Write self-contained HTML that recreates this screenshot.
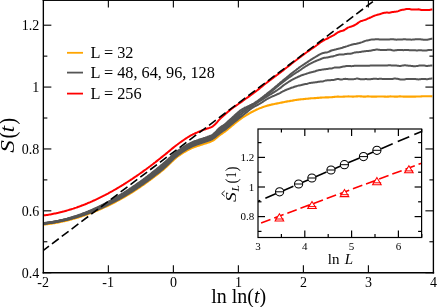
<!DOCTYPE html>
<html><head><meta charset="utf-8"><title>S(t) vs ln ln(t)</title>
<style>
html,body{margin:0;padding:0;background:#fff;}
body{width:437px;height:307px;overflow:hidden;position:relative;font-family:"Liberation Serif",serif;}
</style></head><body>
<svg width="437" height="307" viewBox="0 0 437 307" style="position:absolute;left:0;top:0;will-change:transform;opacity:0.999">
<rect x="0" y="0" width="437" height="307" fill="#fff"/>
<defs><clipPath id="mc"><rect x="43.35" y="0" width="390.05" height="272.70"/></clipPath>
<clipPath id="ic"><rect x="258.00" y="129.00" width="163.60" height="108.50"/></clipPath></defs>
<g>
<g clip-path="url(#mc)" fill="none" stroke-linejoin="round" stroke-linecap="butt">
<polyline points="43.4,224.6 44.4,224.5 45.4,224.4 46.4,224.3 47.4,224.2 48.4,224.0 49.4,223.9 50.4,223.7 51.4,223.6 52.4,223.4 53.4,223.3 54.4,223.1 55.4,222.9 56.4,222.8 57.4,222.6 58.4,222.4 59.4,222.2 60.4,222.0 61.4,221.8 62.4,221.6 63.4,221.3 64.4,221.1 65.4,220.9 66.4,220.7 67.4,220.4 68.4,220.2 69.4,219.9 70.4,219.6 71.4,219.4 72.4,219.1 73.4,218.8 74.4,218.6 75.4,218.3 76.4,218.0 77.4,217.7 78.4,217.4 79.4,217.1 80.4,216.7 81.4,216.4 82.4,216.1 83.4,215.8 84.4,215.4 85.4,215.1 86.4,214.7 87.4,214.4 88.4,214.0 89.4,213.6 90.4,213.3 91.4,212.9 92.4,212.5 93.4,212.1 94.4,211.7 95.4,211.3 96.4,210.9 97.4,210.5 98.4,210.0 99.4,209.6 100.4,209.2 101.4,208.7 102.4,208.3 103.4,207.8 104.4,207.4 105.4,206.9 106.4,206.5 107.4,206.0 108.4,205.5 109.4,205.0 110.4,204.5 111.4,204.0 112.4,203.5 113.4,203.0 114.4,202.5 115.4,202.0 116.4,201.4 117.4,200.9 118.4,200.4 119.4,199.8 120.4,199.2 121.4,198.7 122.4,198.1 123.4,197.6 124.4,197.0 125.4,196.4 126.4,195.8 127.4,195.2 128.4,194.6 129.4,194.0 130.4,193.4 131.4,192.8 132.4,192.1 133.4,191.5 134.4,190.9 135.4,190.2 136.4,189.6 137.4,188.9 138.4,188.2 139.4,187.6 140.4,186.9 141.4,186.2 142.4,185.5 143.4,184.8 144.4,184.1 145.4,183.4 146.4,182.7 147.4,182.0 148.4,181.2 149.4,180.5 150.4,179.8 151.4,179.0 152.4,178.3 153.4,177.5 154.4,176.7 155.4,176.0 156.4,175.2 157.4,174.4 158.4,173.6 159.4,172.9 160.4,172.0 161.4,171.2 162.4,170.4 163.4,169.6 164.4,168.7 165.4,167.8 166.4,166.9 167.4,165.9 168.4,165.0 169.4,164.0 170.4,163.0 171.4,162.1 172.4,161.1 173.4,160.2 174.4,159.3 175.4,158.4 176.4,157.5 177.4,156.7 178.4,156.0 179.4,155.3 180.4,154.6 181.4,153.9 182.4,153.3 183.4,152.7 184.4,152.0 185.4,151.5 186.4,150.9 187.4,150.3 188.4,149.8 189.4,149.3 190.4,148.8 191.4,148.3 192.4,147.9 193.4,147.5 194.4,147.1 195.4,146.7 196.4,146.4 197.4,146.0 198.4,145.7 199.4,145.4 200.4,145.1 201.4,144.8 202.4,144.5 203.4,144.1 204.4,143.8 205.4,143.5 206.4,143.2 207.4,142.8 208.4,142.5 209.4,142.2 210.4,141.8 211.4,141.4 212.4,140.9 213.4,140.3 214.4,139.6 215.4,138.8 216.4,137.9 217.4,137.1 218.4,136.3 219.4,135.5 220.4,134.7 221.4,134.1 222.4,133.4 223.4,132.7 224.4,132.0 225.4,131.3 226.4,130.5 227.4,129.7 228.4,128.8 229.4,128.0 230.4,127.2 231.4,126.3 232.4,125.5 233.4,124.7 234.4,123.8 235.4,123.0 236.4,122.2 237.4,121.3 238.4,120.6 239.4,119.8 240.4,119.1 241.4,118.4 242.4,117.7 243.4,117.0 244.4,116.4 245.4,115.8 246.4,115.2 247.4,114.6 248.4,114.0 249.4,113.4 250.4,112.8 251.4,112.3 252.4,111.8 253.4,111.3 254.4,110.7 255.4,110.3 256.4,109.8 257.4,109.3 258.4,108.9 259.4,108.4 260.4,108.0 261.4,107.7 262.4,107.3 263.4,106.9 264.4,106.6 265.4,106.2 266.4,105.9 267.4,105.6 268.4,105.4 269.4,105.1 270.4,104.9 271.4,104.6 272.4,104.4 273.4,104.2 274.4,104.0 275.4,103.8 276.4,103.6 277.4,103.4 278.4,103.2 279.4,103.0 280.4,102.8 281.4,102.6 282.4,102.4 283.4,102.2 284.4,102.0 285.4,101.8 286.4,101.6 287.4,101.4 288.4,101.2 289.4,101.1 290.4,100.9 291.4,100.7 292.4,100.6 293.4,100.4 294.4,100.2 295.4,100.0 296.4,99.9 297.4,99.7 298.4,99.6 299.4,99.5 300.4,99.4 301.4,99.3 302.4,99.2 303.4,99.1 304.4,99.0 305.4,98.9 306.4,98.8 307.4,98.7 308.4,98.6 309.4,98.5 310.4,98.4 311.4,98.3 312.4,98.2 313.4,98.2 314.4,98.1 315.4,98.1 316.4,98.0 317.4,97.9 318.4,97.9 319.4,97.7 320.4,97.6 321.4,97.6 322.4,97.5 323.4,97.5 324.4,97.5 325.4,97.4 326.4,97.4 327.4,97.4 328.4,97.4 329.4,97.3 330.4,97.3 331.4,97.2 332.4,97.1 333.4,97.0 334.4,96.9 335.4,96.8 336.4,96.7 337.4,96.6 338.4,96.6 339.4,96.7 340.4,96.7 341.4,96.7 342.4,96.7 343.4,96.6 344.4,96.6 345.4,96.5 346.4,96.5 347.4,96.5 348.4,96.4 349.4,96.5 350.4,96.5 351.4,96.5 352.4,96.6 353.4,96.6 354.4,96.5 355.4,96.5 356.4,96.4 357.4,96.4 358.4,96.3 359.4,96.3 360.4,96.4 361.4,96.4 362.4,96.5 363.4,96.6 364.4,96.6 365.4,96.6 366.4,96.5 367.4,96.4 368.4,96.4 369.4,96.5 370.4,96.5 371.4,96.6 372.4,96.6 373.4,96.6 374.4,96.6 375.4,96.6 376.4,96.6 377.4,96.5 378.4,96.5 379.4,96.5 380.4,96.5 381.4,96.5 382.4,96.5 383.4,96.5 384.4,96.6 385.4,96.6 386.4,96.7 387.4,96.6 388.4,96.6 389.4,96.5 390.4,96.4 391.4,96.5 392.4,96.5 393.4,96.5 394.4,96.6 395.4,96.6 396.4,96.6 397.4,96.6 398.4,96.5 399.4,96.4 400.4,96.4 401.4,96.5 402.4,96.5 403.4,96.6 404.4,96.6 405.4,96.6 406.4,96.6 407.4,96.6 408.4,96.6 409.4,96.6 410.4,96.6 411.4,96.6 412.4,96.6 413.4,96.6 414.4,96.6 415.4,96.6 416.4,96.5 417.4,96.5 418.4,96.5 419.4,96.5 420.4,96.5 421.4,96.4 422.4,96.3 423.4,96.3 424.4,96.3 425.4,96.3 426.4,96.3 427.4,96.3 428.4,96.3 429.4,96.3 430.4,96.3 431.4,96.3 432.4,96.4" stroke="#ffa500" stroke-width="2.1"/>
<polyline points="43.4,223.2 44.4,223.1 45.4,223.0 46.4,222.9 47.4,222.7 48.4,222.6 49.4,222.5 50.4,222.3 51.4,222.2 52.4,222.0 53.4,221.8 54.4,221.7 55.4,221.5 56.4,221.3 57.4,221.1 58.4,220.9 59.4,220.7 60.4,220.5 61.4,220.3 62.4,220.0 63.4,219.8 64.4,219.6 65.4,219.3 66.4,219.0 67.4,218.8 68.4,218.5 69.4,218.2 70.4,217.9 71.4,217.6 72.4,217.3 73.4,217.0 74.4,216.7 75.4,216.4 76.4,216.1 77.4,215.8 78.4,215.4 79.4,215.1 80.4,214.7 81.4,214.4 82.4,214.0 83.4,213.6 84.4,213.2 85.4,212.9 86.4,212.5 87.4,212.1 88.4,211.7 89.4,211.3 90.4,210.8 91.4,210.4 92.4,210.0 93.4,209.5 94.4,209.1 95.4,208.7 96.4,208.2 97.4,207.7 98.4,207.3 99.4,206.8 100.4,206.3 101.4,205.8 102.4,205.3 103.4,204.8 104.4,204.3 105.4,203.8 106.4,203.3 107.4,202.8 108.4,202.3 109.4,201.7 110.4,201.2 111.4,200.6 112.4,200.1 113.4,199.5 114.4,199.0 115.4,198.4 116.4,197.8 117.4,197.2 118.4,196.6 119.4,196.0 120.4,195.4 121.4,194.8 122.4,194.2 123.4,193.6 124.4,193.0 125.4,192.4 126.4,191.7 127.4,191.1 128.4,190.4 129.4,189.8 130.4,189.1 131.4,188.5 132.4,187.8 133.4,187.1 134.4,186.4 135.4,185.8 136.4,185.1 137.4,184.4 138.4,183.7 139.4,182.9 140.4,182.2 141.4,181.5 142.4,180.8 143.4,180.1 144.4,179.3 145.4,178.6 146.4,177.8 147.4,177.1 148.4,176.3 149.4,175.6 150.4,174.8 151.4,174.0 152.4,173.2 153.4,172.5 154.4,171.7 155.4,170.9 156.4,170.1 157.4,169.3 158.4,168.5 159.4,167.6 160.4,166.8 161.4,166.0 162.4,165.2 163.4,164.3 164.4,163.5 165.4,162.6 166.4,161.7 167.4,160.8 168.4,159.8 169.4,158.9 170.4,158.0 171.4,157.1 172.4,156.1 173.4,155.2 174.4,154.4 175.4,153.5 176.4,152.7 177.4,151.9 178.4,151.2 179.4,150.5 180.4,149.8 181.4,149.1 182.4,148.4 183.4,147.8 184.4,147.2 185.4,146.5 186.4,146.0 187.4,145.4 188.4,144.8 189.4,144.3 190.4,143.8 191.4,143.3 192.4,142.8 193.4,142.4 194.4,142.0 195.4,141.6 196.4,141.3 197.4,140.9 198.4,140.6 199.4,140.3 200.4,139.9 201.4,139.6 202.4,139.3 203.4,139.0 204.4,138.6 205.4,138.3 206.4,137.9 207.4,137.6 208.4,137.2 209.4,136.9 210.4,136.5 211.4,136.1 212.4,135.5 213.4,134.8 214.4,133.9 215.4,132.9 216.4,131.9 217.4,130.9 218.4,129.9 219.4,129.0 220.4,128.3 221.4,127.5 222.4,126.9 223.4,126.2 224.4,125.5 225.4,124.7 226.4,123.9 227.4,123.0 228.4,122.1 229.4,121.2 230.4,120.4 231.4,119.5 232.4,118.6 233.4,117.8 234.4,116.9 235.4,116.0 236.4,115.2 237.4,114.3 238.4,113.4 239.4,112.6 240.4,111.7" stroke="#555555" stroke-width="2.0"/>
<polyline points="43.4,223.5 44.4,223.4 45.4,223.3 46.4,223.1 47.4,223.0 48.4,222.9 49.4,222.7 50.4,222.6 51.4,222.4 52.4,222.3 53.4,222.1 54.4,222.0 55.4,221.8 56.4,221.6 57.4,221.4 58.4,221.2 59.4,221.0 60.4,220.8 61.4,220.6 62.4,220.3 63.4,220.1 64.4,219.9 65.4,219.6 66.4,219.4 67.4,219.1 68.4,218.9 69.4,218.6 70.4,218.3 71.4,218.0 72.4,217.8 73.4,217.5 74.4,217.2 75.4,216.9 76.4,216.5 77.4,216.2 78.4,215.9 79.4,215.6 80.4,215.2 81.4,214.9 82.4,214.5 83.4,214.2 84.4,213.8 85.4,213.4 86.4,213.1 87.4,212.7 88.4,212.3 89.4,211.9 90.4,211.5 91.4,211.1 92.4,210.7 93.4,210.3 94.4,209.8 95.4,209.4 96.4,209.0 97.4,208.5 98.4,208.1 99.4,207.6 100.4,207.2 101.4,206.7 102.4,206.2 103.4,205.7 104.4,205.2 105.4,204.8 106.4,204.3 107.4,203.7 108.4,203.2 109.4,202.7 110.4,202.2 111.4,201.7 112.4,201.1 113.4,200.6 114.4,200.0 115.4,199.5 116.4,198.9 117.4,198.4 118.4,197.8 119.4,197.2 120.4,196.6 121.4,196.0 122.4,195.4 123.4,194.8 124.4,194.2 125.4,193.6 126.4,193.0 127.4,192.4 128.4,191.8 129.4,191.1 130.4,190.5 131.4,189.8 132.4,189.2 133.4,188.5 134.4,187.8 135.4,187.2 136.4,186.5 137.4,185.8 138.4,185.1 139.4,184.4 140.4,183.7 141.4,183.0 142.4,182.3 143.4,181.6 144.4,180.9 145.4,180.1 146.4,179.4 147.4,178.7 148.4,177.9 149.4,177.2 150.4,176.4 151.4,175.6 152.4,174.9 153.4,174.1 154.4,173.3 155.4,172.5 156.4,171.7 157.4,170.9 158.4,170.1 159.4,169.3 160.4,168.5 161.4,167.7 162.4,166.9 163.4,166.0 164.4,165.2 165.4,164.3 166.4,163.4 167.4,162.4 168.4,161.5 169.4,160.5 170.4,159.6 171.4,158.6 172.4,157.7 173.4,156.8 174.4,155.9 175.4,155.0 176.4,154.2 177.4,153.4 178.4,152.6 179.4,151.9 180.4,151.2 181.4,150.5 182.4,149.9 183.4,149.2 184.4,148.6 185.4,148.0 186.4,147.4 187.4,146.8 188.4,146.2 189.4,145.7 190.4,145.2 191.4,144.7 192.4,144.2 193.4,143.8 194.4,143.4 195.4,143.0 196.4,142.6 197.4,142.3 198.4,142.0 199.4,141.6 200.4,141.3 201.4,141.0 202.4,140.6 203.4,140.3 204.4,140.0 205.4,139.6 206.4,139.3 207.4,138.9 208.4,138.6 209.4,138.3 210.4,137.9 211.4,137.4 212.4,136.9 213.4,136.2 214.4,135.4 215.4,134.5 216.4,133.6 217.4,132.6 218.4,131.7 219.4,130.8 220.4,130.1 221.4,129.4 222.4,128.7 223.4,128.0 224.4,127.3 225.4,126.6 226.4,125.8 227.4,124.9 228.4,124.0 229.4,123.2 230.4,122.3 231.4,121.5 232.4,120.6 233.4,119.8 234.4,118.9 235.4,118.1 236.4,117.3 237.4,116.4 238.4,115.6 239.4,114.7 240.4,113.9" stroke="#555555" stroke-width="2.0"/>
<polyline points="43.4,223.8 44.4,223.6 45.4,223.5 46.4,223.4 47.4,223.3 48.4,223.1 49.4,223.0 50.4,222.9 51.4,222.7 52.4,222.5 53.4,222.4 54.4,222.2 55.4,222.0 56.4,221.9 57.4,221.7 58.4,221.5 59.4,221.3 60.4,221.1 61.4,220.9 62.4,220.6 63.4,220.4 64.4,220.2 65.4,220.0 66.4,219.7 67.4,219.5 68.4,219.2 69.4,219.0 70.4,218.7 71.4,218.4 72.4,218.2 73.4,217.9 74.4,217.6 75.4,217.3 76.4,217.0 77.4,216.7 78.4,216.4 79.4,216.1 80.4,215.7 81.4,215.4 82.4,215.1 83.4,214.7 84.4,214.4 85.4,214.0 86.4,213.7 87.4,213.3 88.4,212.9 89.4,212.6 90.4,212.2 91.4,211.8 92.4,211.4 93.4,211.0 94.4,210.6 95.4,210.2 96.4,209.7 97.4,209.3 98.4,208.9 99.4,208.4 100.4,208.0 101.4,207.5 102.4,207.1 103.4,206.6 104.4,206.2 105.4,205.7 106.4,205.2 107.4,204.7 108.4,204.2 109.4,203.7 110.4,203.2 111.4,202.7 112.4,202.2 113.4,201.7 114.4,201.1 115.4,200.6 116.4,200.0 117.4,199.5 118.4,198.9 119.4,198.4 120.4,197.8 121.4,197.2 122.4,196.7 123.4,196.1 124.4,195.5 125.4,194.9 126.4,194.3 127.4,193.7 128.4,193.1 129.4,192.4 130.4,191.8 131.4,191.2 132.4,190.5 133.4,189.9 134.4,189.3 135.4,188.6 136.4,187.9 137.4,187.3 138.4,186.6 139.4,185.9 140.4,185.2 141.4,184.5 142.4,183.8 143.4,183.1 144.4,182.4 145.4,181.7 146.4,181.0 147.4,180.2 148.4,179.5 149.4,178.8 150.4,178.0 151.4,177.3 152.4,176.5 153.4,175.7 154.4,175.0 155.4,174.2 156.4,173.4 157.4,172.6 158.4,171.8 159.4,171.0 160.4,170.2 161.4,169.4 162.4,168.6 163.4,167.7 164.4,166.9 165.4,166.0 166.4,165.0 167.4,164.1 168.4,163.1 169.4,162.1 170.4,161.2 171.4,160.2 172.4,159.2 173.4,158.3 174.4,157.4 175.4,156.5 176.4,155.6 177.4,154.8 178.4,154.1 179.4,153.3 180.4,152.6 181.4,151.9 182.4,151.3 183.4,150.6 184.4,150.0 185.4,149.4 186.4,148.8 187.4,148.2 188.4,147.6 189.4,147.1 190.4,146.6 191.4,146.1 192.4,145.6 193.4,145.2 194.4,144.8 195.4,144.4 196.4,144.0 197.4,143.7 198.4,143.3 199.4,143.0 200.4,142.7 201.4,142.3 202.4,142.0 203.4,141.7 204.4,141.3 205.4,141.0 206.4,140.6 207.4,140.3 208.4,140.0 209.4,139.6 210.4,139.3 211.4,138.8 212.4,138.3 213.4,137.7 214.4,136.9 215.4,136.1 216.4,135.2 217.4,134.3 218.4,133.5 219.4,132.6 220.4,131.9 221.4,131.2 222.4,130.6 223.4,129.9 224.4,129.2 225.4,128.4 226.4,127.6 227.4,126.8 228.4,125.9 229.4,125.1 230.4,124.3 231.4,123.4 232.4,122.6 233.4,121.8 234.4,121.0 235.4,120.2 236.4,119.4 237.4,118.5 238.4,117.7 239.4,116.9 240.4,116.1" stroke="#555555" stroke-width="2.0"/>
<polyline points="43.4,223.9 44.4,223.8 45.4,223.7 46.4,223.5 47.4,223.4 48.4,223.3 49.4,223.1 50.4,223.0 51.4,222.8 52.4,222.7 53.4,222.5 54.4,222.4 55.4,222.2 56.4,222.0 57.4,221.8 58.4,221.6 59.4,221.4 60.4,221.2 61.4,221.0 62.4,220.8 63.4,220.6 64.4,220.4 65.4,220.1 66.4,219.9 67.4,219.7 68.4,219.4 69.4,219.2 70.4,218.9 71.4,218.6 72.4,218.4 73.4,218.1 74.4,217.8 75.4,217.5 76.4,217.2 77.4,216.9 78.4,216.6 79.4,216.3 80.4,216.0 81.4,215.7 82.4,215.3 83.4,215.0 84.4,214.7 85.4,214.3 86.4,214.0 87.4,213.6 88.4,213.3 89.4,212.9 90.4,212.5 91.4,212.1 92.4,211.7 93.4,211.3 94.4,211.0 95.4,210.5 96.4,210.1 97.4,209.7 98.4,209.3 99.4,208.9 100.4,208.4 101.4,208.0 102.4,207.5 103.4,207.1 104.4,206.6 105.4,206.2 106.4,205.7 107.4,205.2 108.4,204.7 109.4,204.2 110.4,203.7 111.4,203.2 112.4,202.7 113.4,202.2 114.4,201.7 115.4,201.2 116.4,200.6 117.4,200.1 118.4,199.5 119.4,199.0 120.4,198.4 121.4,197.9 122.4,197.3 123.4,196.7 124.4,196.1 125.4,195.6 126.4,195.0 127.4,194.4 128.4,193.7 129.4,193.1 130.4,192.5 131.4,191.9 132.4,191.3 133.4,190.6 134.4,190.0 135.4,189.3 136.4,188.7 137.4,188.0 138.4,187.3 139.4,186.7 140.4,186.0 141.4,185.3 142.4,184.6 143.4,183.9 144.4,183.2 145.4,182.5 146.4,181.8 147.4,181.1 148.4,180.3 149.4,179.6 150.4,178.8 151.4,178.1 152.4,177.3 153.4,176.6 154.4,175.8 155.4,175.0 156.4,174.3 157.4,173.5 158.4,172.7 159.4,171.9 160.4,171.1 161.4,170.3 162.4,169.4 163.4,168.6 164.4,167.7 165.4,166.8 166.4,165.9 167.4,164.9 168.4,164.0 169.4,163.0 170.4,162.0 171.4,161.0 172.4,160.0 173.4,159.1 174.4,158.1 175.4,157.2 176.4,156.4 177.4,155.6 178.4,154.8 179.4,154.1 180.4,153.4 181.4,152.7 182.4,152.0 183.4,151.4 184.4,150.7 185.4,150.1 186.4,149.5 187.4,148.9 188.4,148.4 189.4,147.8 190.4,147.3 191.4,146.8 192.4,146.4 193.4,145.9 194.4,145.5 195.4,145.1 196.4,144.7 197.4,144.4 198.4,144.0 199.4,143.7 200.4,143.4 201.4,143.0 202.4,142.7 203.4,142.4 204.4,142.0 205.4,141.7 206.4,141.3 207.4,141.0 208.4,140.7 209.4,140.3 210.4,140.0 211.4,139.5 212.4,139.0 213.4,138.4 214.4,137.7 215.4,136.9 216.4,136.0 217.4,135.2 218.4,134.4 219.4,133.6 220.4,132.8 221.4,132.2 222.4,131.5 223.4,130.8 224.4,130.1 225.4,129.4 226.4,128.6 227.4,127.8 228.4,126.9 229.4,126.1 230.4,125.3 231.4,124.5 232.4,123.7 233.4,122.8 234.4,122.0 235.4,121.2 236.4,120.4 237.4,119.6 238.4,118.8 239.4,118.0 240.4,117.2 241.4,116.4 242.4,115.6 243.4,114.8 244.4,114.0 245.4,113.2 246.4,112.4 247.4,111.6 248.4,110.8 249.4,110.0 250.4,109.3 251.4,108.5 252.4,107.8 253.4,107.2 254.4,106.6 255.4,106.0 256.4,105.5 257.4,105.0 258.4,104.5 259.4,103.9 260.4,103.4 261.4,102.7 262.4,102.1 263.4,101.4 264.4,100.7 265.4,100.1 266.4,99.4 267.4,98.9 268.4,98.3 269.4,97.8 270.4,97.3 271.4,96.9 272.4,96.4 273.4,96.0 274.4,95.6 275.4,95.1 276.4,94.7 277.4,94.2 278.4,93.8 279.4,93.3 280.4,92.8 281.4,92.2 282.4,91.7 283.4,91.1 284.4,90.7 285.4,90.2 286.4,89.8 287.4,89.4 288.4,89.0 289.4,88.6 290.4,88.2 291.4,87.8 292.4,87.5 293.4,87.2 294.4,86.8 295.4,86.5 296.4,86.2 297.4,85.9 298.4,85.6 299.4,85.4 300.4,85.2 301.4,85.0 302.4,84.7 303.4,84.5 304.4,84.3 305.4,84.1 306.4,83.9 307.4,83.7 308.4,83.4 309.4,83.1 310.4,82.9 311.4,82.8 312.4,82.7 313.4,82.5 314.4,82.4 315.4,82.3 316.4,82.2 317.4,82.0 318.4,81.8 319.4,81.8 320.4,81.6 321.4,81.6 322.4,81.4 323.4,81.2 324.4,80.9 325.4,80.6 326.4,80.4 327.4,80.3 328.4,80.2 329.4,80.3 330.4,80.2 331.4,80.1 332.4,80.1 333.4,79.9 334.4,79.8 335.4,79.5 336.4,79.2 337.4,79.1 338.4,79.1 339.4,79.2 340.4,79.4 341.4,79.5 342.4,79.4 343.4,79.1 344.4,78.9 345.4,78.8 346.4,78.9 347.4,79.0 348.4,79.2 349.4,79.3 350.4,79.3 351.4,79.3 352.4,79.3 353.4,79.2 354.4,79.1 355.4,78.9 356.4,78.6 357.4,78.6 358.4,78.7 359.4,78.9 360.4,79.2 361.4,79.3 362.4,79.3 363.4,79.2 364.4,79.2 365.4,79.1 366.4,79.1 367.4,79.2 368.4,79.3 369.4,79.3 370.4,79.3 371.4,79.1 372.4,78.9 373.4,78.7 374.4,78.7 375.4,78.7 376.4,78.8 377.4,78.9 378.4,78.9 379.4,78.8 380.4,78.8 381.4,78.8 382.4,78.9 383.4,78.9 384.4,79.0 385.4,79.0 386.4,79.0 387.4,79.0 388.4,79.0 389.4,79.1 390.4,79.1 391.4,79.0 392.4,78.9 393.4,78.7 394.4,78.6 395.4,78.6 396.4,78.7 397.4,78.8 398.4,79.0 399.4,79.2 400.4,79.4 401.4,79.5 402.4,79.6 403.4,79.6 404.4,79.4 405.4,79.2 406.4,79.1 407.4,79.0 408.4,79.0 409.4,79.0 410.4,78.9 411.4,79.0 412.4,78.9 413.4,78.9 414.4,79.0 415.4,79.1 416.4,79.2 417.4,79.3 418.4,79.4 419.4,79.3 420.4,79.2 421.4,79.1 422.4,79.0 423.4,78.9 424.4,79.0 425.4,79.1 426.4,79.2 427.4,79.2 428.4,79.1 429.4,78.8 430.4,78.7 431.4,78.5 432.4,78.5" stroke="#555555" stroke-width="2.0"/>
<polyline points="43.4,223.6 44.4,223.5 45.4,223.4 46.4,223.2 47.4,223.1 48.4,223.0 49.4,222.8 50.4,222.7 51.4,222.5 52.4,222.4 53.4,222.2 54.4,222.0 55.4,221.9 56.4,221.7 57.4,221.5 58.4,221.3 59.4,221.1 60.4,220.9 61.4,220.7 62.4,220.5 63.4,220.2 64.4,220.0 65.4,219.8 66.4,219.5 67.4,219.3 68.4,219.0 69.4,218.7 70.4,218.5 71.4,218.2 72.4,217.9 73.4,217.6 74.4,217.3 75.4,217.0 76.4,216.7 77.4,216.4 78.4,216.1 79.4,215.7 80.4,215.4 81.4,215.1 82.4,214.7 83.4,214.4 84.4,214.0 85.4,213.7 86.4,213.3 87.4,212.9 88.4,212.5 89.4,212.1 90.4,211.7 91.4,211.3 92.4,210.9 93.4,210.5 94.4,210.1 95.4,209.7 96.4,209.2 97.4,208.8 98.4,208.4 99.4,207.9 100.4,207.5 101.4,207.0 102.4,206.5 103.4,206.1 104.4,205.6 105.4,205.1 106.4,204.6 107.4,204.1 108.4,203.6 109.4,203.1 110.4,202.6 111.4,202.0 112.4,201.5 113.4,201.0 114.4,200.4 115.4,199.9 116.4,199.3 117.4,198.8 118.4,198.2 119.4,197.6 120.4,197.1 121.4,196.5 122.4,195.9 123.4,195.3 124.4,194.7 125.4,194.1 126.4,193.5 127.4,192.9 128.4,192.2 129.4,191.6 130.4,191.0 131.4,190.3 132.4,189.7 133.4,189.0 134.4,188.4 135.4,187.7 136.4,187.0 137.4,186.3 138.4,185.7 139.4,185.0 140.4,184.3 141.4,183.6 142.4,182.9 143.4,182.1 144.4,181.4 145.4,180.7 146.4,180.0 147.4,179.2 148.4,178.5 149.4,177.7 150.4,177.0 151.4,176.2 152.4,175.5 153.4,174.7 154.4,173.9 155.4,173.1 156.4,172.3 157.4,171.6 158.4,170.8 159.4,169.9 160.4,169.1 161.4,168.3 162.4,167.5 163.4,166.6 164.4,165.8 165.4,164.9 166.4,164.0 167.4,163.0 168.4,162.1 169.4,161.1 170.4,160.2 171.4,159.2 172.4,158.3 173.4,157.3 174.4,156.4 175.4,155.5 176.4,154.7 177.4,153.9 178.4,153.1 179.4,152.4 180.4,151.7 181.4,151.0 182.4,150.4 183.4,149.7 184.4,149.1 185.4,148.5 186.4,147.9 187.4,147.3 188.4,146.7 189.4,146.2 190.4,145.7 191.4,145.2 192.4,144.8 193.4,144.3 194.4,143.9 195.4,143.5 196.4,143.2 197.4,142.8 198.4,142.5 199.4,142.1 200.4,141.8 201.4,141.5 202.4,141.1 203.4,140.8 204.4,140.5 205.4,140.1 206.4,139.8 207.4,139.4 208.4,139.1 209.4,138.8 210.4,138.4 211.4,137.9 212.4,137.4 213.4,136.7 214.4,135.9 215.4,135.1 216.4,134.2 217.4,133.2 218.4,132.3 219.4,131.5 220.4,130.7 221.4,130.1 222.4,129.4 223.4,128.7 224.4,128.0 225.4,127.3 226.4,126.4 227.4,125.6 228.4,124.7 229.4,123.9 230.4,123.0 231.4,122.2 232.4,121.3 233.4,120.5 234.4,119.6 235.4,118.8 236.4,117.9 237.4,117.1 238.4,116.3 239.4,115.5 240.4,114.7 241.4,113.9 242.4,113.1 243.4,112.4 244.4,111.6 245.4,110.9 246.4,110.2 247.4,109.5 248.4,108.8 249.4,108.1 250.4,107.4 251.4,106.7 252.4,106.0 253.4,105.3 254.4,104.6 255.4,104.0 256.4,103.3 257.4,102.6 258.4,102.0 259.4,101.4 260.4,100.7 261.4,100.1 262.4,99.4 263.4,98.8 264.4,98.2 265.4,97.5 266.4,96.9 267.4,96.3 268.4,95.6 269.4,95.0 270.4,94.4 271.4,93.8 272.4,93.2 273.4,92.6 274.4,91.9 275.4,91.3 276.4,90.7 277.4,90.0 278.4,89.3 279.4,88.6 280.4,87.9 281.4,87.1 282.4,86.2 283.4,85.4 284.4,84.7 285.4,84.0 286.4,83.4 287.4,82.7 288.4,82.0 289.4,81.4 290.4,80.8 291.4,80.2 292.4,79.7 293.4,79.1 294.4,78.6 295.4,78.1 296.4,77.6 297.4,77.2 298.4,76.7 299.4,76.3 300.4,75.8 301.4,75.4 302.4,75.0 303.4,74.7 304.4,74.4 305.4,74.1 306.4,73.8 307.4,73.4 308.4,73.1 309.4,72.8 310.4,72.5 311.4,72.3 312.4,72.1 313.4,71.8 314.4,71.5 315.4,71.2 316.4,70.8 317.4,70.6 318.4,70.3 319.4,70.1 320.4,69.9 321.4,69.7 322.4,69.6 323.4,69.4 324.4,69.3 325.4,69.2 326.4,69.0 327.4,68.9 328.4,68.7 329.4,68.6 330.4,68.6 331.4,68.4 332.4,68.2 333.4,67.9 334.4,67.6 335.4,67.5 336.4,67.5 337.4,67.5 338.4,67.5 339.4,67.4 340.4,67.2 341.4,67.0 342.4,66.8 343.4,66.6 344.4,66.4 345.4,66.2 346.4,66.0 347.4,65.9 348.4,65.9 349.4,66.0 350.4,66.1 351.4,66.2 352.4,66.1 353.4,65.9 354.4,65.8 355.4,65.8 356.4,65.7 357.4,65.8 358.4,65.7 359.4,65.7 360.4,65.8 361.4,65.8 362.4,65.8 363.4,65.8 364.4,65.8 365.4,65.8 366.4,65.8 367.4,65.8 368.4,65.7 369.4,65.7 370.4,65.6 371.4,65.5 372.4,65.5 373.4,65.4 374.4,65.4 375.4,65.4 376.4,65.4 377.4,65.4 378.4,65.5 379.4,65.5 380.4,65.5 381.4,65.6 382.4,65.5 383.4,65.6 384.4,65.5 385.4,65.5 386.4,65.5 387.4,65.4 388.4,65.3 389.4,65.3 390.4,65.3 391.4,65.4 392.4,65.5 393.4,65.6 394.4,65.6 395.4,65.6 396.4,65.6 397.4,65.7 398.4,65.8 399.4,65.9 400.4,65.9 401.4,65.7 402.4,65.6 403.4,65.4 404.4,65.3 405.4,65.3 406.4,65.4 407.4,65.5 408.4,65.7 409.4,65.7 410.4,65.8 411.4,65.9 412.4,66.0 413.4,66.2 414.4,66.2 415.4,66.2 416.4,66.1 417.4,65.9 418.4,65.8 419.4,65.6 420.4,65.5 421.4,65.6 422.4,65.5 423.4,65.6 424.4,65.6 425.4,65.7 426.4,65.9 427.4,65.9 428.4,65.8 429.4,65.7 430.4,65.6 431.4,65.4 432.4,65.4" stroke="#555555" stroke-width="2.0"/>
<polyline points="43.4,223.3 44.4,223.2 45.4,223.1 46.4,223.0 47.4,222.8 48.4,222.7 49.4,222.6 50.4,222.4 51.4,222.3 52.4,222.1 53.4,222.0 54.4,221.8 55.4,221.6 56.4,221.4 57.4,221.2 58.4,221.0 59.4,220.8 60.4,220.6 61.4,220.4 62.4,220.1 63.4,219.9 64.4,219.7 65.4,219.4 66.4,219.2 67.4,218.9 68.4,218.6 69.4,218.4 70.4,218.1 71.4,217.8 72.4,217.5 73.4,217.2 74.4,216.9 75.4,216.6 76.4,216.3 77.4,215.9 78.4,215.6 79.4,215.3 80.4,214.9 81.4,214.6 82.4,214.2 83.4,213.8 84.4,213.5 85.4,213.1 86.4,212.7 87.4,212.3 88.4,211.9 89.4,211.5 90.4,211.1 91.4,210.7 92.4,210.3 93.4,209.8 94.4,209.4 95.4,209.0 96.4,208.5 97.4,208.0 98.4,207.6 99.4,207.1 100.4,206.6 101.4,206.2 102.4,205.7 103.4,205.2 104.4,204.7 105.4,204.2 106.4,203.7 107.4,203.2 108.4,202.6 109.4,202.1 110.4,201.6 111.4,201.0 112.4,200.5 113.4,199.9 114.4,199.4 115.4,198.8 116.4,198.3 117.4,197.7 118.4,197.1 119.4,196.5 120.4,195.9 121.4,195.3 122.4,194.7 123.4,194.1 124.4,193.5 125.4,192.9 126.4,192.2 127.4,191.6 128.4,191.0 129.4,190.3 130.4,189.7 131.4,189.0 132.4,188.3 133.4,187.7 134.4,187.0 135.4,186.3 136.4,185.6 137.4,184.9 138.4,184.2 139.4,183.5 140.4,182.8 141.4,182.1 142.4,181.4 143.4,180.7 144.4,179.9 145.4,179.2 146.4,178.5 147.4,177.7 148.4,176.9 149.4,176.2 150.4,175.4 151.4,174.7 152.4,173.9 153.4,173.1 154.4,172.3 155.4,171.5 156.4,170.7 157.4,169.9 158.4,169.1 159.4,168.3 160.4,167.5 161.4,166.7 162.4,165.8 163.4,165.0 164.4,164.1 165.4,163.2 166.4,162.3 167.4,161.4 168.4,160.5 169.4,159.5 170.4,158.6 171.4,157.7 172.4,156.8 173.4,155.8 174.4,155.0 175.4,154.1 176.4,153.3 177.4,152.5 178.4,151.7 179.4,151.0 180.4,150.3 181.4,149.7 182.4,149.0 183.4,148.4 184.4,147.7 185.4,147.1 186.4,146.5 187.4,145.9 188.4,145.4 189.4,144.8 190.4,144.3 191.4,143.9 192.4,143.4 193.4,143.0 194.4,142.6 195.4,142.2 196.4,141.8 197.4,141.5 198.4,141.1 199.4,140.8 200.4,140.5 201.4,140.1 202.4,139.8 203.4,139.5 204.4,139.2 205.4,138.8 206.4,138.5 207.4,138.1 208.4,137.8 209.4,137.4 210.4,137.1 211.4,136.6 212.4,136.1 213.4,135.3 214.4,134.5 215.4,133.6 216.4,132.6 217.4,131.6 218.4,130.6 219.4,129.8 220.4,129.0 221.4,128.3 222.4,127.6 223.4,126.9 224.4,126.2 225.4,125.5 226.4,124.6 227.4,123.8 228.4,122.9 229.4,122.0 230.4,121.1 231.4,120.2 232.4,119.4 233.4,118.5 234.4,117.6 235.4,116.7 236.4,115.8 237.4,114.9 238.4,114.1 239.4,113.3 240.4,112.5 241.4,111.8 242.4,111.1 243.4,110.4 244.4,109.8 245.4,109.2 246.4,108.6 247.4,108.0 248.4,107.5 249.4,106.9 250.4,106.3 251.4,105.7 252.4,105.1 253.4,104.5 254.4,103.8 255.4,103.2 256.4,102.5 257.4,101.8 258.4,101.1 259.4,100.4 260.4,99.7 261.4,99.0 262.4,98.3 263.4,97.5 264.4,96.8 265.4,96.1 266.4,95.3 267.4,94.6 268.4,93.8 269.4,93.0 270.4,92.2 271.4,91.4 272.4,90.6 273.4,89.8 274.4,88.9 275.4,88.1 276.4,87.3 277.4,86.4 278.4,85.6 279.4,84.8 280.4,84.0 281.4,83.2 282.4,82.4 283.4,81.6 284.4,80.9 285.4,80.1 286.4,79.4 287.4,78.7 288.4,78.0 289.4,77.3 290.4,76.6 291.4,75.9 292.4,75.2 293.4,74.5 294.4,73.8 295.4,73.2 296.4,72.5 297.4,71.9 298.4,71.3 299.4,70.6 300.4,70.0 301.4,69.2 302.4,68.5 303.4,67.8 304.4,67.2 305.4,66.5 306.4,65.9 307.4,65.3 308.4,64.7 309.4,64.1 310.4,63.6 311.4,63.1 312.4,62.6 313.4,62.1 314.4,61.6 315.4,61.2 316.4,60.8 317.4,60.4 318.4,60.0 319.4,59.6 320.4,59.2 321.4,58.8 322.4,58.4 323.4,58.0 324.4,57.8 325.4,57.7 326.4,57.6 327.4,57.4 328.4,57.2 329.4,57.0 330.4,56.8 331.4,56.6 332.4,56.5 333.4,56.2 334.4,55.9 335.4,55.6 336.4,55.2 337.4,54.9 338.4,54.7 339.4,54.5 340.4,54.5 341.4,54.5 342.4,54.5 343.4,54.5 344.4,54.3 345.4,54.0 346.4,53.9 347.4,53.7 348.4,53.7 349.4,53.8 350.4,53.7 351.4,53.5 352.4,53.3 353.4,52.9 354.4,52.6 355.4,52.4 356.4,52.3 357.4,52.2 358.4,52.2 359.4,52.1 360.4,51.9 361.4,51.7 362.4,51.6 363.4,51.5 364.4,51.3 365.4,51.2 366.4,51.1 367.4,51.0 368.4,51.0 369.4,50.8 370.4,50.7 371.4,50.5 372.4,50.3 373.4,50.1 374.4,49.9 375.4,49.7 376.4,49.6 377.4,49.6 378.4,49.7 379.4,49.8 380.4,49.9 381.4,50.1 382.4,50.1 383.4,50.1 384.4,50.0 385.4,50.0 386.4,49.9 387.4,49.8 388.4,49.7 389.4,49.7 390.4,49.8 391.4,50.0 392.4,50.3 393.4,50.4 394.4,50.5 395.4,50.3 396.4,50.2 397.4,50.0 398.4,49.9 399.4,49.9 400.4,49.9 401.4,50.0 402.4,50.1 403.4,50.2 404.4,50.1 405.4,50.1 406.4,50.0 407.4,50.0 408.4,50.1 409.4,50.2 410.4,50.3 411.4,50.3 412.4,50.2 413.4,50.2 414.4,50.2 415.4,50.3 416.4,50.4 417.4,50.4 418.4,50.3 419.4,50.2 420.4,50.2 421.4,50.3 422.4,50.4 423.4,50.5 424.4,50.6 425.4,50.5 426.4,50.4 427.4,50.2 428.4,50.0 429.4,50.0 430.4,49.9 431.4,49.9 432.4,50.0" stroke="#555555" stroke-width="2.0"/>
<polyline points="43.4,223.1 44.4,222.9 45.4,222.8 46.4,222.7 47.4,222.6 48.4,222.5 49.4,222.3 50.4,222.2 51.4,222.0 52.4,221.9 53.4,221.7 54.4,221.5 55.4,221.4 56.4,221.2 57.4,221.0 58.4,220.8 59.4,220.5 60.4,220.3 61.4,220.1 62.4,219.9 63.4,219.6 64.4,219.4 65.4,219.1 66.4,218.9 67.4,218.6 68.4,218.3 69.4,218.0 70.4,217.7 71.4,217.4 72.4,217.1 73.4,216.8 74.4,216.5 75.4,216.2 76.4,215.9 77.4,215.5 78.4,215.2 79.4,214.8 80.4,214.5 81.4,214.1 82.4,213.7 83.4,213.3 84.4,213.0 85.4,212.6 86.4,212.2 87.4,211.8 88.4,211.3 89.4,210.9 90.4,210.5 91.4,210.1 92.4,209.6 93.4,209.2 94.4,208.7 95.4,208.3 96.4,207.8 97.4,207.3 98.4,206.9 99.4,206.4 100.4,205.9 101.4,205.4 102.4,204.9 103.4,204.4 104.4,203.9 105.4,203.3 106.4,202.8 107.4,202.3 108.4,201.8 109.4,201.2 110.4,200.7 111.4,200.1 112.4,199.5 113.4,199.0 114.4,198.4 115.4,197.8 116.4,197.2 117.4,196.6 118.4,196.1 119.4,195.4 120.4,194.8 121.4,194.2 122.4,193.6 123.4,193.0 124.4,192.3 125.4,191.7 126.4,191.1 127.4,190.4 128.4,189.8 129.4,189.1 130.4,188.4 131.4,187.8 132.4,187.1 133.4,186.4 134.4,185.7 135.4,185.0 136.4,184.3 137.4,183.6 138.4,182.9 139.4,182.2 140.4,181.5 141.4,180.7 142.4,180.0 143.4,179.3 144.4,178.5 145.4,177.8 146.4,177.0 147.4,176.3 148.4,175.5 149.4,174.7 150.4,174.0 151.4,173.2 152.4,172.4 153.4,171.6 154.4,170.8 155.4,170.0 156.4,169.2 157.4,168.4 158.4,167.6 159.4,166.8 160.4,165.9 161.4,165.1 162.4,164.3 163.4,163.4 164.4,162.6 165.4,161.7 166.4,160.8 167.4,159.9 168.4,159.0 169.4,158.1 170.4,157.2 171.4,156.2 172.4,155.3 173.4,154.5 174.4,153.6 175.4,152.8 176.4,151.9 177.4,151.2 178.4,150.4 179.4,149.7 180.4,149.1 181.4,148.4 182.4,147.7 183.4,147.1 184.4,146.4 185.4,145.8 186.4,145.2 187.4,144.6 188.4,144.1 189.4,143.6 190.4,143.1 191.4,142.6 192.4,142.1 193.4,141.7 194.4,141.3 195.4,140.9 196.4,140.6 197.4,140.2 198.4,139.9 199.4,139.5 200.4,139.2 201.4,138.9 202.4,138.6 203.4,138.3 204.4,137.9 205.4,137.6 206.4,137.2 207.4,136.9 208.4,136.5 209.4,136.2 210.4,135.8 211.4,135.4 212.4,134.8 213.4,134.0 214.4,133.1 215.4,132.1 216.4,131.1 217.4,130.0 218.4,129.0 219.4,128.1 220.4,127.3 221.4,126.6 222.4,125.9 223.4,125.3 224.4,124.6 225.4,123.8 226.4,122.9 227.4,122.0 228.4,121.1 229.4,120.2 230.4,119.3 231.4,118.4 232.4,117.5 233.4,116.6 234.4,115.6 235.4,114.7 236.4,113.8 237.4,112.9 238.4,112.0 239.4,111.2 240.4,110.4 241.4,109.8 242.4,109.2 243.4,108.6 244.4,108.0 245.4,107.5 246.4,107.1 247.4,106.6 248.4,106.1 249.4,105.7 250.4,105.2 251.4,104.7 252.4,104.1 253.4,103.6 254.4,103.0 255.4,102.3 256.4,101.7 257.4,101.0 258.4,100.3 259.4,99.5 260.4,98.8 261.4,98.0 262.4,97.3 263.4,96.5 264.4,95.7 265.4,94.9 266.4,94.2 267.4,93.4 268.4,92.6 269.4,91.8 270.4,91.0 271.4,90.2 272.4,89.4 273.4,88.5 274.4,87.7 275.4,86.8 276.4,86.0 277.4,85.2 278.4,84.3 279.4,83.5 280.4,82.6 281.4,81.8 282.4,81.0 283.4,80.1 284.4,79.3 285.4,78.5 286.4,77.7 287.4,76.9 288.4,76.1 289.4,75.2 290.4,74.4 291.4,73.6 292.4,72.8 293.4,72.0 294.4,71.2 295.4,70.5 296.4,69.7 297.4,68.9 298.4,68.2 299.4,67.4 300.4,66.7 301.4,66.0 302.4,65.4 303.4,64.7 304.4,64.1 305.4,63.4 306.4,62.7 307.4,62.1 308.4,61.4 309.4,60.7 310.4,60.1 311.4,59.4 312.4,58.8 313.4,58.2 314.4,57.6 315.4,57.0 316.4,56.4 317.4,55.8 318.4,55.2 319.4,54.6 320.4,54.1 321.4,53.6 322.4,53.2 323.4,52.9 324.4,52.7 325.4,52.5 326.4,52.4 327.4,52.2 328.4,51.9 329.4,51.5 330.4,51.0 331.4,50.5 332.4,50.3 333.4,50.1 334.4,49.8 335.4,49.6 336.4,49.3 337.4,48.9 338.4,48.7 339.4,48.5 340.4,48.3 341.4,48.0 342.4,47.7 343.4,47.3 344.4,47.0 345.4,46.8 346.4,46.4 347.4,46.1 348.4,45.7 349.4,45.4 350.4,45.1 351.4,44.8 352.4,44.5 353.4,44.3 354.4,44.1 355.4,43.9 356.4,43.8 357.4,43.5 358.4,43.2 359.4,43.0 360.4,42.7 361.4,42.4 362.4,42.1 363.4,41.6 364.4,41.2 365.4,40.9 366.4,40.6 367.4,40.4 368.4,40.2 369.4,40.0 370.4,39.7 371.4,39.6 372.4,39.4 373.4,39.4 374.4,39.4 375.4,39.3 376.4,39.3 377.4,39.2 378.4,39.2 379.4,39.4 380.4,39.5 381.4,39.5 382.4,39.5 383.4,39.5 384.4,39.4 385.4,39.5 386.4,39.5 387.4,39.5 388.4,39.5 389.4,39.4 390.4,39.3 391.4,39.2 392.4,39.2 393.4,39.3 394.4,39.5 395.4,39.6 396.4,39.7 397.4,39.6 398.4,39.6 399.4,39.5 400.4,39.5 401.4,39.5 402.4,39.4 403.4,39.3 404.4,39.3 405.4,39.3 406.4,39.4 407.4,39.4 408.4,39.6 409.4,39.6 410.4,39.6 411.4,39.7 412.4,39.6 413.4,39.4 414.4,39.4 415.4,39.3 416.4,39.2 417.4,39.3 418.4,39.2 419.4,39.2 420.4,39.3 421.4,39.5 422.4,39.6 423.4,39.8 424.4,39.8 425.4,39.8 426.4,39.8 427.4,39.7 428.4,39.4 429.4,39.2 430.4,39.0 431.4,38.8 432.4,38.8" stroke="#555555" stroke-width="2.0"/>
<polyline points="43.4,215.4 44.4,215.3 45.4,215.2 46.4,215.0 47.4,214.9 48.4,214.7 49.4,214.6 50.4,214.4 51.4,214.2 52.4,214.0 53.4,213.8 54.4,213.6 55.4,213.4 56.4,213.2 57.4,213.0 58.4,212.8 59.4,212.5 60.4,212.3 61.4,212.1 62.4,211.8 63.4,211.5 64.4,211.3 65.4,211.0 66.4,210.7 67.4,210.4 68.4,210.1 69.4,209.8 70.4,209.5 71.4,209.2 72.4,208.9 73.4,208.6 74.4,208.2 75.4,207.9 76.4,207.6 77.4,207.2 78.4,206.8 79.4,206.5 80.4,206.1 81.4,205.7 82.4,205.3 83.4,205.0 84.4,204.6 85.4,204.2 86.4,203.8 87.4,203.3 88.4,202.9 89.4,202.5 90.4,202.1 91.4,201.6 92.4,201.2 93.4,200.7 94.4,200.3 95.4,199.8 96.4,199.3 97.4,198.9 98.4,198.4 99.4,197.9 100.4,197.4 101.4,196.9 102.4,196.4 103.4,195.9 104.4,195.4 105.4,194.9 106.4,194.3 107.4,193.8 108.4,193.3 109.4,192.7 110.4,192.2 111.4,191.6 112.4,191.1 113.4,190.5 114.4,189.9 115.4,189.4 116.4,188.8 117.4,188.2 118.4,187.6 119.4,187.0 120.4,186.4 121.4,185.8 122.4,185.2 123.4,184.6 124.4,183.9 125.4,183.3 126.4,182.7 127.4,182.0 128.4,181.4 129.4,180.7 130.4,180.1 131.4,179.4 132.4,178.8 133.4,178.1 134.4,177.4 135.4,176.7 136.4,176.1 137.4,175.4 138.4,174.7 139.4,174.0 140.4,173.3 141.4,172.6 142.4,171.9 143.4,171.1 144.4,170.4 145.4,169.7 146.4,169.0 147.4,168.2 148.4,167.5 149.4,166.7 150.4,166.0 151.4,165.2 152.4,164.5 153.4,163.7 154.4,162.9 155.4,162.2 156.4,161.4 157.4,160.6 158.4,159.8 159.4,159.0 160.4,158.2 161.4,157.4 162.4,156.6 163.4,155.8 164.4,155.0 165.4,154.2 166.4,153.4 167.4,152.6 168.4,151.7 169.4,150.9 170.4,150.1 171.4,149.2 172.4,148.4 173.4,147.6 174.4,146.8 175.4,146.0 176.4,145.2 177.4,144.5 178.4,143.7 179.4,143.0 180.4,142.3 181.4,141.6 182.4,140.9 183.4,140.2 184.4,139.5 185.4,138.8 186.4,138.2 187.4,137.5 188.4,136.9 189.4,136.3 190.4,135.7 191.4,135.2 192.4,134.7 193.4,134.1 194.4,133.7 195.4,133.2 196.4,132.8 197.4,132.4 198.4,131.9 199.4,131.5 200.4,131.1 201.4,130.7 202.4,130.3 203.4,129.9 204.4,129.6 205.4,129.2 206.4,128.8 207.4,128.5 208.4,128.2 209.4,127.9 210.4,127.5 211.4,127.1 212.4,126.6 213.4,125.8 214.4,124.9 215.4,124.0 216.4,123.0 217.4,121.9 218.4,120.7 219.4,119.6 220.4,118.6 221.4,117.6 222.4,116.7 223.4,115.8 224.4,114.9 225.4,114.0 226.4,113.2 227.4,112.3 228.4,111.4 229.4,110.6 230.4,109.8 231.4,109.0 232.4,108.3 233.4,107.5 234.4,106.8 235.4,106.1 236.4,105.4 237.4,104.7 238.4,104.0 239.4,103.3 240.4,102.6 241.4,101.9 242.4,101.1 243.4,100.4 244.4,99.7 245.4,99.0 246.4,98.3 247.4,97.6 248.4,96.9 249.4,96.1 250.4,95.4 251.4,94.7 252.4,94.0 253.4,93.2 254.4,92.5 255.4,91.7 256.4,90.9 257.4,90.2 258.4,89.4 259.4,88.6 260.4,87.8 261.4,87.0 262.4,86.2 263.4,85.3 264.4,84.5 265.4,83.7 266.4,83.0 267.4,82.2 268.4,81.4 269.4,80.6 270.4,79.9 271.4,79.1 272.4,78.4 273.4,77.6 274.4,76.9 275.4,76.2 276.4,75.4 277.4,74.7 278.4,73.9 279.4,73.2 280.4,72.4 281.4,71.6 282.4,70.9 283.4,70.1 284.4,69.3 285.4,68.5 286.4,67.7 287.4,67.0 288.4,66.2 289.4,65.4 290.4,64.6 291.4,63.8 292.4,63.0 293.4,62.2 294.4,61.5 295.4,60.7 296.4,60.0 297.4,59.2 298.4,58.5 299.4,57.7 300.4,57.0 301.4,56.2 302.4,55.5 303.4,54.7 304.4,53.9 305.4,53.2 306.4,52.5 307.4,51.8 308.4,51.1 309.4,50.4 310.4,49.7 311.4,49.0 312.4,48.3 313.4,47.7 314.4,47.0 315.4,46.3 316.4,45.5 317.4,44.8 318.4,44.0 319.4,43.2 320.4,42.5 321.4,41.8 322.4,41.2 323.4,40.5 324.4,40.0 325.4,39.4 326.4,39.0 327.4,38.5 328.4,38.0 329.4,37.4 330.4,36.9 331.4,36.3 332.4,35.8 333.4,35.4 334.4,34.8 335.4,34.1 336.4,33.4 337.4,32.7 338.4,32.1 339.4,31.7 340.4,31.3 341.4,31.1 342.4,30.8 343.4,30.5 344.4,30.0 345.4,29.3 346.4,28.7 347.4,27.9 348.4,27.4 349.4,27.1 350.4,26.7 351.4,26.5 352.4,26.1 353.4,25.7 354.4,25.3 355.4,24.7 356.4,24.1 357.4,23.4 358.4,22.6 359.4,22.0 360.4,21.4 361.4,20.9 362.4,20.7 363.4,20.4 364.4,20.1 365.4,19.8 366.4,19.3 367.4,18.8 368.4,18.4 369.4,18.0 370.4,17.5 371.4,17.1 372.4,16.6 373.4,16.1 374.4,15.7 375.4,15.4 376.4,15.1 377.4,14.8 378.4,14.6 379.4,14.3 380.4,14.0 381.4,13.6 382.4,13.3 383.4,13.0 384.4,12.8 385.4,12.7 386.4,12.6 387.4,12.6 388.4,12.7 389.4,12.7 390.4,12.5 391.4,12.3 392.4,12.1 393.4,11.9 394.4,11.8 395.4,11.7 396.4,11.6 397.4,11.4 398.4,11.1 399.4,10.6 400.4,10.3 401.4,10.0 402.4,9.8 403.4,9.8 404.4,9.6 405.4,9.3 406.4,9.1 407.4,8.9 408.4,9.0 409.4,9.1 410.4,9.2 411.4,9.4 412.4,9.5 413.4,9.5 414.4,9.6 415.4,9.5 416.4,9.4 417.4,9.4 418.4,9.3 419.4,9.5 420.4,9.7 421.4,10.0 422.4,10.1 423.4,10.1 424.4,10.1 425.4,10.0 426.4,10.0 427.4,10.1 428.4,10.1 429.4,9.9 430.4,9.7 431.4,9.5 432.4,9.4" stroke="#ff0000" stroke-width="2.0"/>
<line x1="43.35" y1="250.37" x2="376.00" y2="-0.78" stroke="#000" stroke-width="1.6" stroke-dasharray="8.5 3.8" stroke-dashoffset="1.5"/>
</g>
<rect x="258.00" y="129.00" width="163.60" height="108.50" fill="#fff"/>
<g clip-path="url(#ic)" fill="none">
<line x1="258.00" y1="201.40" x2="421.60" y2="131.40" stroke="#000" stroke-width="1.6" stroke-dasharray="12.5 5.5" stroke-dashoffset="10"/>
<line x1="261.10" y1="223.00" x2="421.60" y2="163.20" stroke="#ff0000" stroke-width="1.6" stroke-dasharray="10 4"/>
</g>
<g fill="#fff" stroke="#000" stroke-width="1.05">
<circle cx="279.6" cy="191.8" r="4.1"/>
<line x1="275.5" y1="191.8" x2="283.7" y2="191.8" stroke-width="1"/>
<circle cx="298.6" cy="184.0" r="4.1"/>
<line x1="294.5" y1="184.0" x2="302.7" y2="184.0" stroke-width="1"/>
<circle cx="311.9" cy="178.0" r="4.1"/>
<line x1="307.8" y1="178.0" x2="316.0" y2="178.0" stroke-width="1"/>
<circle cx="331.0" cy="170.0" r="4.1"/>
<line x1="326.9" y1="170.0" x2="335.1" y2="170.0" stroke-width="1"/>
<circle cx="344.4" cy="164.7" r="4.1"/>
<line x1="340.3" y1="164.7" x2="348.5" y2="164.7" stroke-width="1"/>
<circle cx="363.5" cy="156.6" r="4.1"/>
<line x1="359.4" y1="156.6" x2="367.6" y2="156.6" stroke-width="1"/>
<circle cx="376.9" cy="150.3" r="4.1"/>
<line x1="372.8" y1="150.3" x2="381.0" y2="150.3" stroke-width="1"/>
</g>
<g fill="#fff" stroke="#ff0000" stroke-width="1.05" stroke-linejoin="miter">
<polygon points="279.4,213.8 275.1,220.9 283.7,220.9"/>
<line x1="275.1" y1="219.0" x2="283.7" y2="219.0" stroke-width="1"/>
<polygon points="312.0,201.4 307.7,208.5 316.3,208.5"/>
<line x1="307.7" y1="206.6" x2="316.3" y2="206.6" stroke-width="1"/>
<polygon points="344.5,189.5 340.2,196.6 348.8,196.6"/>
<line x1="340.2" y1="194.7" x2="348.8" y2="194.7" stroke-width="1"/>
<polygon points="376.9,177.6 372.6,184.7 381.2,184.7"/>
<line x1="372.6" y1="182.8" x2="381.2" y2="182.8" stroke-width="1"/>
<polygon points="408.9,165.7 404.6,172.8 413.2,172.8"/>
<line x1="404.6" y1="170.9" x2="413.2" y2="170.9" stroke-width="1"/>
</g>
<g stroke="#000" stroke-width="1.2" fill="none">
<rect x="258.00" y="129.00" width="163.60" height="108.50"/>
<line x1="281.40" y1="237.50" x2="281.40" y2="234.00"/>
<line x1="281.40" y1="129.00" x2="281.40" y2="132.50"/>
<line x1="304.80" y1="237.50" x2="304.80" y2="230.50"/>
<line x1="304.80" y1="129.00" x2="304.80" y2="136.00"/>
<line x1="328.20" y1="237.50" x2="328.20" y2="234.00"/>
<line x1="328.20" y1="129.00" x2="328.20" y2="132.50"/>
<line x1="351.60" y1="237.50" x2="351.60" y2="230.50"/>
<line x1="351.60" y1="129.00" x2="351.60" y2="136.00"/>
<line x1="375.00" y1="237.50" x2="375.00" y2="234.00"/>
<line x1="375.00" y1="129.00" x2="375.00" y2="132.50"/>
<line x1="398.40" y1="237.50" x2="398.40" y2="230.50"/>
<line x1="398.40" y1="129.00" x2="398.40" y2="136.00"/>
<line x1="421.80" y1="237.50" x2="421.80" y2="234.00"/>
<line x1="421.80" y1="129.00" x2="421.80" y2="132.50"/>
<line x1="258.00" y1="231.40" x2="261.50" y2="231.40"/>
<line x1="421.60" y1="231.40" x2="418.10" y2="231.40"/>
<line x1="258.00" y1="216.60" x2="265.00" y2="216.60"/>
<line x1="421.60" y1="216.60" x2="414.60" y2="216.60"/>
<line x1="258.00" y1="201.80" x2="261.50" y2="201.80"/>
<line x1="421.60" y1="201.80" x2="418.10" y2="201.80"/>
<line x1="258.00" y1="187.00" x2="265.00" y2="187.00"/>
<line x1="421.60" y1="187.00" x2="414.60" y2="187.00"/>
<line x1="258.00" y1="172.20" x2="261.50" y2="172.20"/>
<line x1="421.60" y1="172.20" x2="418.10" y2="172.20"/>
<line x1="258.00" y1="157.40" x2="265.00" y2="157.40"/>
<line x1="421.60" y1="157.40" x2="414.60" y2="157.40"/>
<line x1="258.00" y1="142.60" x2="261.50" y2="142.60"/>
<line x1="421.60" y1="142.60" x2="418.10" y2="142.60"/>
</g>
<g stroke="#000" stroke-width="1.35" fill="none">
<line x1="43.35" y1="0" x2="43.35" y2="273.45"/>
<line x1="433.40" y1="0" x2="433.40" y2="273.45"/>
<line x1="42.60" y1="272.70" x2="434.15" y2="272.70"/>
<rect x="42.67" y="-4" width="391.41" height="4.95" fill="#000" stroke="none"/>
</g>
<g stroke="#000" stroke-width="1.1" fill="none">
<line x1="108.36" y1="272.70" x2="108.36" y2="265.20"/>
<line x1="108.36" y1="0.00" x2="108.36" y2="7.50"/>
<line x1="173.37" y1="272.70" x2="173.37" y2="265.20"/>
<line x1="173.37" y1="0.00" x2="173.37" y2="7.50"/>
<line x1="238.37" y1="272.70" x2="238.37" y2="265.20"/>
<line x1="238.37" y1="0.00" x2="238.37" y2="7.50"/>
<line x1="303.38" y1="272.70" x2="303.38" y2="265.20"/>
<line x1="303.38" y1="0.00" x2="303.38" y2="7.50"/>
<line x1="368.39" y1="272.70" x2="368.39" y2="265.20"/>
<line x1="368.39" y1="0.00" x2="368.39" y2="7.50"/>
<line x1="43.35" y1="272.70" x2="51.35" y2="272.70"/>
<line x1="433.40" y1="272.70" x2="425.40" y2="272.70"/>
<line x1="43.35" y1="241.76" x2="47.35" y2="241.76"/>
<line x1="433.40" y1="241.76" x2="429.40" y2="241.76"/>
<line x1="43.35" y1="210.83" x2="51.35" y2="210.83"/>
<line x1="433.40" y1="210.83" x2="425.40" y2="210.83"/>
<line x1="43.35" y1="179.89" x2="47.35" y2="179.89"/>
<line x1="433.40" y1="179.89" x2="429.40" y2="179.89"/>
<line x1="43.35" y1="148.95" x2="51.35" y2="148.95"/>
<line x1="433.40" y1="148.95" x2="425.40" y2="148.95"/>
<line x1="43.35" y1="118.01" x2="47.35" y2="118.01"/>
<line x1="433.40" y1="118.01" x2="429.40" y2="118.01"/>
<line x1="43.35" y1="87.07" x2="51.35" y2="87.07"/>
<line x1="433.40" y1="87.07" x2="425.40" y2="87.07"/>
<line x1="43.35" y1="56.14" x2="47.35" y2="56.14"/>
<line x1="433.40" y1="56.14" x2="429.40" y2="56.14"/>
<line x1="43.35" y1="25.20" x2="51.35" y2="25.20"/>
<line x1="433.40" y1="25.20" x2="425.40" y2="25.20"/>
</g>
<g stroke-width="1.8" fill="none">
<line x1="67" y1="52.8" x2="83" y2="52.8" stroke="#ffa500"/>
<line x1="67" y1="72.6" x2="83" y2="72.6" stroke="#555"/>
<line x1="67" y1="93.6" x2="83" y2="93.6" stroke="#ff0000"/>
</g>
<g font-family="'Liberation Serif', serif" fill="#000">
<g font-size="16.3px">
<text x="90.5" y="58.2">L = 32</text>
<text x="90.5" y="78.0">L = 48, 64, 96, 128</text>
<text x="90.5" y="99.0">L = 256</text>
</g>
<g font-size="14px" text-anchor="end">
<text x="39.3" y="277.6">0.4</text>
<text x="39.3" y="215.7">0.6</text>
<text x="39.3" y="153.8">0.8</text>
<text x="39.3" y="92.0">1</text>
<text x="39.3" y="30.1">1.2</text>
</g>
<g font-size="14px" text-anchor="middle">
<text x="43.1" y="286.8">-2</text>
<text x="108.2" y="286.8">-1</text>
<text x="173.4" y="286.8">0</text>
<text x="238.4" y="286.8">1</text>
<text x="303.4" y="286.8">2</text>
<text x="368.4" y="286.8">3</text>
<text x="433.5" y="286.8">4</text>
</g>
<text x="211.2" y="302.7" font-size="20px">ln ln(<tspan font-style="italic">t</tspan>)</text>
<text transform="translate(13.80,152.80) rotate(-90) scale(1.300,1)" font-size="19.5px" font-style="italic">S</text>
<text transform="translate(14.60,138.60) rotate(-90) scale(0.850,1)" font-size="24.0px">(</text>
<text transform="translate(13.80,132.20) rotate(-90) scale(1.150,1)" font-size="20.0px" font-style="italic">t</text>
<text transform="translate(14.60,124.80) rotate(-90) scale(0.850,1)" font-size="24.0px">)</text>
<g font-size="11px" text-anchor="end">
<text x="254.2" y="220.4">0.8</text>
<text x="254.2" y="190.8">1</text>
<text x="254.2" y="161.2">1.2</text>
</g>
<g font-size="11px" text-anchor="middle">
<text x="258.0" y="249.8">3</text>
<text x="304.8" y="249.8">4</text>
<text x="351.6" y="249.8">5</text>
<text x="398.4" y="249.8">6</text>
</g>
<text x="327.8" y="263.8" font-size="15px" word-spacing="1.5">ln <tspan font-style="italic">L</tspan></text>
<text transform="translate(236.10,202.00) rotate(-90) scale(1.350,1)" font-size="14.5px" font-style="italic">S</text>
<text transform="translate(239.30,191.40) rotate(-90) scale(1.100,1)" font-size="10.5px" font-style="italic">L</text>
<text transform="translate(236.70,183.40) rotate(-90) scale(0.850,1)" font-size="17.5px">(</text>
<text transform="translate(236.10,177.70) rotate(-90) scale(0.800,1)" font-size="14.5px">1</text>
<text transform="translate(236.70,171.40) rotate(-90) scale(0.850,1)" font-size="17.5px">)</text>
<polyline points="224.7,196.3 221.7,193.6 224.7,190.9" fill="none" stroke="#000" stroke-width="0.9"/>
</g>
</g>
</svg>
</body></html>
